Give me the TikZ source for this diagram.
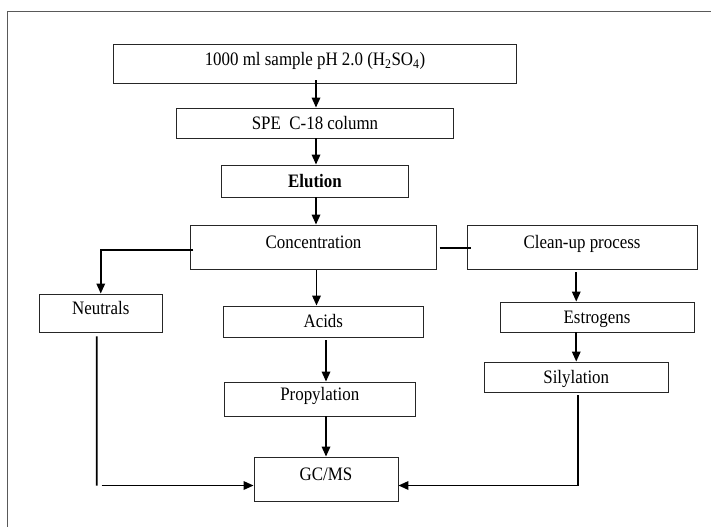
\documentclass[tikz,border=0pt]{standalone}
\usepackage{fontspec}
\setmainfont[FakeStretch=0.89]{Liberation Serif}
\usetikzlibrary{arrows.meta,calc}
\begin{document}
\begin{tikzpicture}[x=1pt,y=-1pt,
  stepbox/.style={draw=black!85,line width=0.9pt,rectangle,inner sep=0pt,
    font=\fontsize{19}{22}\selectfont,text height=12.6pt,text depth=0pt},
  upper/.style={text height=12.6pt,text depth=8.8pt},
  conn/.style={draw=black,line width=1.7pt},
  arr/.style={conn,-{Triangle[length=10pt,width=8.5pt]}},
  framecol/.style={draw=black!65,line width=1.3pt}]
\useasboundingbox (0,0) rectangle (711,527);
\draw[framecol] (711,11.7) -- (7.5,11.7) -- (7.5,527);

\node[stepbox,upper,minimum width=403pt,minimum height=39pt] (b1) at (315,63.5) {1000 ml sample pH 2.0 (H\textsubscript{2}SO\textsubscript{4})};
\node[stepbox,minimum width=276.5pt,minimum height=30pt] (b2) at (315,123) {SPE~ C-18 column};
\node[stepbox,minimum width=187pt,minimum height=32pt] (b3) at (315,181) {\bfseries Elution};
\node[stepbox,upper,minimum width=245.5pt,minimum height=44pt] (conc) at (313.5,247) {Concentration};
\node[stepbox,upper,minimum width=230pt,minimum height=44pt] (clean) at (582,247) {Clean-up process};
\node[stepbox,upper,minimum width=122.5pt,minimum height=38pt] (neut) at (100.75,313) {Neutrals};
\node[stepbox,minimum width=200.6pt,minimum height=31pt] (acids) at (323.3,321.5) {Acids};
\node[stepbox,minimum width=194pt,minimum height=30pt] (estr) at (597,317) {Estrogens};
\node[stepbox,minimum width=184.5pt,minimum height=30pt] (sil) at (576.25,377) {Silylation};
\node[stepbox,upper,minimum width=190.5pt,minimum height=34pt] (prop) at (319.75,399) {Propylation};
\node[stepbox,upper,minimum width=144pt,minimum height=44pt] (gc) at (326,479) {GC/MS};

\coordinate (nl) at (96.7,485.5);

\draw[arr] ([xshift=1pt,yshift=3pt]b1.south) -- ([xshift=1pt]b2.north);
\draw[arr] ([xshift=1pt]b2.south) -- ([xshift=1pt]b3.north);
\draw[arr] ([xshift=1pt]b3.south) -- ([xshift=1pt]b3.south |- conc.north);
\draw[arr] ([xshift=3pt,yshift=-1pt]conc.south) -- ([xshift=3pt]conc.south |- acids.north);
\draw[arr] ([yshift=-3pt]acids.south -| gc.north) -- (prop.north -| gc.north);
\draw[arr] (prop.south -| gc.north) -- (gc.north);
\draw[arr] ([xshift=3pt,yshift=-3pt]conc.west) -| (neut.north);
\draw[conn] ([xshift=3pt,yshift=-1pt]conc.east) -- ([xshift=4pt,yshift=-1pt]clean.west);
\draw[arr] ([yshift=-3pt]clean.south -| sil.north) -- (estr.north -| sil.north);
\draw[arr] (estr.south -| sil.north) -- (sil.north);
\draw[conn] ([xshift=-4pt,yshift=-4pt]neut.south) -- (nl);
\draw[arr] ([xshift=5pt]nl) -- (gc.west |- nl);
\draw[arr] ([xshift=2pt,yshift=-3pt]sil.south) |- (gc.east |- nl);
\end{tikzpicture}
\end{document}
